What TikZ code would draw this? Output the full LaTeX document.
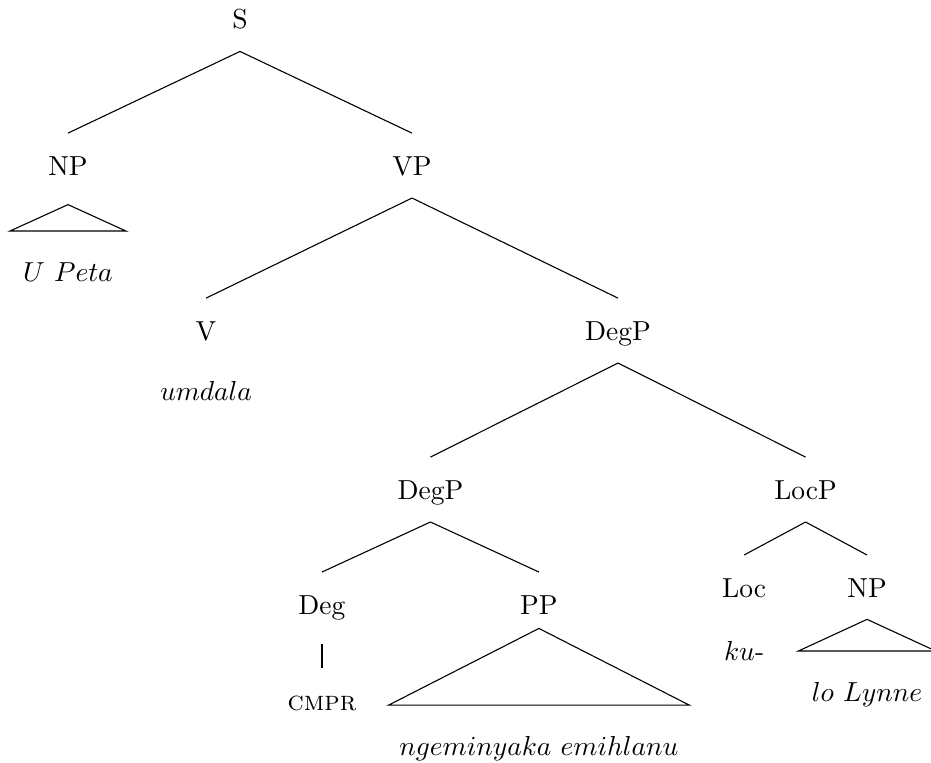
\documentclass[tikz,border=0pt]{standalone}
\usepackage{amsmath}
\usepackage{tikz}

\begin{document}
\begin{tikzpicture}[text depth=.1em, text height=.8em, inner ysep=7.1pt,
  edge from parent path={(\tikzparentnode.south) -- (\tikzchildnode.north)},
  level 1/.style={sibling distance=125.1pt, level distance=53.3pt},
  level 2/.style={sibling distance=149.8pt, level distance=60pt},
  level 3/.style={sibling distance=136.4pt, level distance=57.8pt},
  roof/.style={edge from parent path={([yshift=-#1]\tikzparentnode.center) -- (\tikzchildnode.north west) -- (\tikzchildnode.north east) -- cycle}},
  leaf/.style={inner ysep=10pt, inner xsep=0pt, minimum width=#1}]
  \useasboundingbox (-87.27pt,6.91pt) rectangle (251.25pt,-270.5pt);
  \node (s) {S}
    child {node (np) {NP}
      child[level distance=38.5pt, roof=14.2pt] {node[leaf=41.8pt] (upeta) {$U\ Peta$}}
    }
    child {node (vp) {VP}
      child {node (v) {V}
        child[level distance=21.8pt] {node (umdala) {$umdala$} edge from parent[draw=none]}
      }
      child {node (degp) {DegP}
        child {node (degp2) {DegP}
          child[sibling distance=78.9pt, level distance=41.8pt] {node (deg) {Deg}
            child[level distance=34.9pt] {node (cmpr) {\textsc{cmpr}} edge from parent[shorten <=2.5pt]}
          }
          child[sibling distance=78.9pt, level distance=41.8pt] {node (pp) {PP}
            child[level distance=51.3pt, roof=8.7pt] {node[leaf=109pt] (ngem) {$ngeminyaka\ emihlanu$}}
          }
        }
        child {node (locp) {LocP}
          child[sibling distance=44.7pt, level distance=35.6pt] {node (loc) {Loc}
            child[level distance=22.9pt] {node (ku) {$ku$-} edge from parent[draw=none]}
          }
          child[sibling distance=44.7pt, level distance=35.6pt] {node (np2) {NP}
            child[level distance=37.8pt, roof=11.6pt] {node[leaf=49.5pt] (lynne) {$lo\ Lynne$}}
          }
        }
      }
    };
\end{tikzpicture}
\end{document}
